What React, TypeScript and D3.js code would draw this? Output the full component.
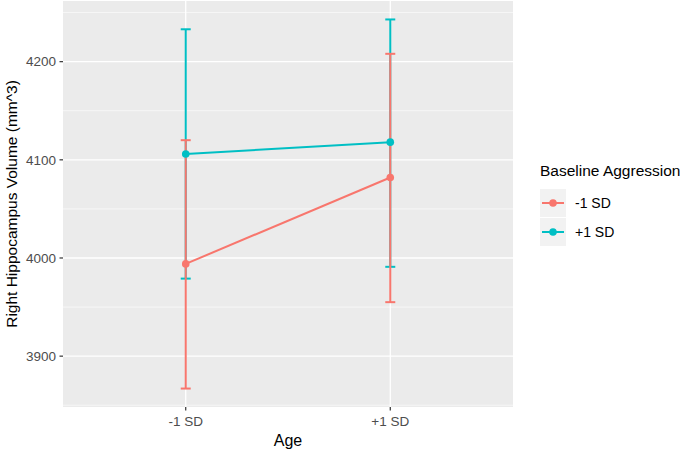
import * as d3 from 'd3';
import React from 'react';

const ageLevels = ['-1 SD', '+1 SD'];
const groups = ['-1 SD', '+1 SD'];
const groupColors = ['#F8766D', '#00BFC4'];

// estimated means and CI bounds per group, in age order
const lowAggMean = [3994, 4082];
const lowAggLower = [3867, 3955];
const lowAggUpper = [4120, 4208];
const highAggMean = [4106, 4118];
const highAggLower = [3979, 3991];
const highAggUpper = [4233, 4243];

const yTicks = [3900, 4000, 4100, 4200];
const yMinor = [3850, 3950, 4050, 4150, 4250];

type Series = { name: string; color: string; mean: number[]; lo: number[]; hi: number[] };

const series: Series[] = [
  { name: groups[0], color: groupColors[0], mean: lowAggMean, lo: lowAggLower, hi: lowAggUpper },
  { name: groups[1], color: groupColors[1], mean: highAggMean, lo: highAggLower, hi: highAggUpper },
];

const W = 685;
const H = 452;
const panel = { left: 63, right: 513, top: 1, bottom: 407 };
const font = '"Liberation Sans", Arial, sans-serif';

const App: React.FC = () => {
  const allVals = series.flatMap(s => [...s.lo, ...s.hi]);
  const lo = d3.min(allVals) ?? 0;
  const hi = d3.max(allVals) ?? 0;
  const pad = (hi - lo) * 0.05;
  const y = d3.scaleLinear().domain([lo - pad, hi + pad]).range([panel.bottom, panel.top]);

  // discrete axis with ggplot's 0.6 expansion
  const x = d3.scalePoint<string>().domain(ageLevels).range([panel.left, panel.right]).padding(0.6);

  const line = d3.line<number>()
    .x((_d, i) => x(ageLevels[i]) ?? 0)
    .y(d => y(d));

  const cap = 5;
  // error bars: teal underneath, red on top (as in the original)
  const barOrder = [...series].reverse();

  return (
    <svg width={W} height={H} style={{ position: 'absolute', left: 0, top: 0, background: '#fff' }}>
      <rect x={panel.left} y={panel.top} width={panel.right - panel.left} height={panel.bottom - panel.top} fill="#EBEBEB" />
      {yMinor.filter(v => y(v) > panel.top && y(v) < panel.bottom).map(v => (
        <line key={'mn' + v} x1={panel.left} x2={panel.right} y1={y(v)} y2={y(v)} stroke="#fff" strokeWidth={0.6} />
      ))}
      {yTicks.map(v => (
        <line key={'mj' + v} x1={panel.left} x2={panel.right} y1={y(v)} y2={y(v)} stroke="#fff" strokeWidth={1.3} />
      ))}
      {ageLevels.map(a => (
        <line key={'vx' + a} x1={x(a)} x2={x(a)} y1={panel.top} y2={panel.bottom} stroke="#fff" strokeWidth={1.3} />
      ))}

      {barOrder.map(s => (
        <g key={'eb' + s.name}>
          {ageLevels.map((a, i) => {
            const cx = x(a) ?? 0;
            return (
              <g key={a} stroke={s.color} strokeWidth={2}>
                <line x1={cx} x2={cx} y1={y(s.lo[i])} y2={y(s.hi[i])} />
                <line x1={cx - cap} x2={cx + cap} y1={y(s.lo[i])} y2={y(s.lo[i])} />
                <line x1={cx - cap} x2={cx + cap} y1={y(s.hi[i])} y2={y(s.hi[i])} />
              </g>
            );
          })}
        </g>
      ))}
      {series.map(s => (
        <g key={s.name}>
          <path d={line(s.mean) ?? ''} fill="none" stroke={s.color} strokeWidth={2} />
          {s.mean.map((m, i) => (
            <circle key={i} cx={x(ageLevels[i])} cy={y(m)} r={3.8} fill={s.color} />
          ))}
        </g>
      ))}

      {/* y axis */}
      {yTicks.map(v => (
        <g key={'yt' + v}>
          <line x1={panel.left - 3.5} x2={panel.left} y1={y(v)} y2={y(v)} stroke="#333" strokeWidth={1.2} />
          <text x={panel.left - 7} y={y(v)} dy="0.35em" textAnchor="end" fontFamily={font} fontSize={13.5} fill="#4D4D4D">{v}</text>
        </g>
      ))}
      {/* x axis */}
      {ageLevels.map(a => (
        <g key={'xt' + a}>
          <line x1={x(a)} x2={x(a)} y1={panel.bottom} y2={panel.bottom + 3.5} stroke="#333" strokeWidth={1.2} />
          <text x={x(a)} y={panel.bottom + 19} textAnchor="middle" fontFamily={font} fontSize={13.5} fill="#4D4D4D">{a}</text>
        </g>
      ))}
      <text x={(panel.left + panel.right) / 2} y={446} textAnchor="middle" fontFamily={font} fontSize={16} fill="#000">Age</text>
      <text transform={`translate(17,${(panel.top + panel.bottom) / 2}) rotate(-90)`} textAnchor="middle" fontFamily={font} fontSize={15.5} fill="#000">
        Right Hippocampus Volume (mm^3)
      </text>

      {/* legend */}
      <text x={540} y={176} fontFamily={font} fontSize={15.5} fill="#000">Baseline Aggression</text>
      {series.map((s, i) => {
        const top = 189 + i * 29;
        const cy = top + 14;
        return (
          <g key={'lg' + s.name}>
            <rect x={540} y={top} width={26} height={28} fill="#F2F2F2" />
            <line x1={542} x2={564} y1={cy} y2={cy} stroke={s.color} strokeWidth={2} />
            <circle cx={553} cy={cy} r={3.8} fill={s.color} />
            <text x={575} y={cy} dy="0.35em" fontFamily={font} fontSize={14} fill="#000">{s.name}</text>
          </g>
        );
      })}
    </svg>
  );
};

export default App;
